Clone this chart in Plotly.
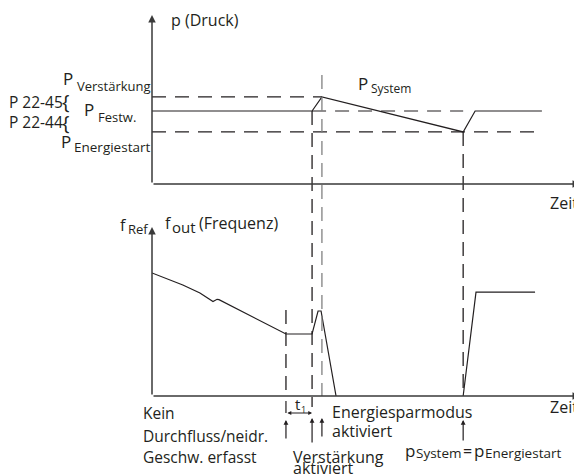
import plotly.graph_objects as go

W, H = 582, 474
OFF = 8  # the page body has an 8px margin, so the figure starts at (8, 8)
FW, FH = W - OFF, H - OFF
INK = "#231f20"
GREY = "#808080"
FONT = "Open Sans"

# time runs 0..100 along both panels
t_system = [0, 37.4, 39.7, 72.7, 75.5, 91.1]
p_system = [4.32, 4.32, 5.15, 3.08, 4.32, 4.32]
p_boost = 5.15
p_setpoint = 4.32
p_wakeup = 3.08
t_boost_dash = [0, 39.7]
t_set_dash = [37.4, 72.7]
t_wake_dash = [0, 91.1]

t_fout_a = [0, 7.2, 11.2, 14.25, 15.2, 15.65, 31.3, 37.4, 38.8, 39.5, 43.0]
f_out_a = [7.28, 6.57, 6.09, 5.59, 5.72, 5.70, 3.67, 3.67, 5.03, 5.03, 0]
t_fout_b = [72.7, 75.7, 89.5]
f_out_b = [0, 6.15, 6.15]

t_noflow = 31.3
t_boost = 37.4
t_sleep = 39.7
t_wake = 72.7


def px(x):
    return (x - OFF) / FW


def py(y):
    return 1 - (y - OFF) / FH


fig = go.Figure()

line = {"color": INK, "width": 1.2}
dash = {"color": INK, "width": 1.2, "dash": "14px,9px"}

fig.add_trace(go.Scatter(x=t_boost_dash, y=[p_boost] * 2, mode="lines", line=dash))
fig.add_trace(go.Scatter(x=t_set_dash, y=[p_setpoint] * 2, mode="lines", line=dash))
fig.add_trace(go.Scatter(x=t_wake_dash, y=[p_wakeup] * 2, mode="lines", line=dash))
fig.add_trace(go.Scatter(x=t_system, y=p_system, mode="lines", line=line))

fig.add_trace(go.Scatter(x=t_fout_a, y=f_out_a, mode="lines", line=line,
                         xaxis="x2", yaxis="y2"))
fig.add_trace(go.Scatter(x=t_fout_b, y=f_out_b, mode="lines", line=line,
                         xaxis="x2", yaxis="y2"))

xdom = [px(152), px(580)]
fig.update_layout(
    width=FW,
    height=FH,
    margin=dict(l=0, r=0, t=0, b=0),
    paper_bgcolor="white",
    plot_bgcolor="rgba(0,0,0,0)",
    showlegend=False,
    font=dict(family=FONT, color=INK),
    xaxis=dict(domain=xdom, range=[0, 100], visible=False),
    yaxis=dict(domain=[py(184), py(15)], range=[0, 10], visible=False),
    xaxis2=dict(domain=xdom, range=[0, 100], visible=False, anchor="y2"),
    yaxis2=dict(domain=[py(396), py(227)], range=[0, 10], visible=False, anchor="x2"),
)

# vertical event markers (dashed), spanning both panels
vlines = [
    (t_boost, 111, 407, INK),
    (t_sleep, 75, 396, GREY),
    (t_wake, 132, 396, INK),
    (t_noflow, 310, 396, INK),
]
for t, y0, y1, col in vlines:
    fig.add_shape(type="line", xref="x", yref="paper", x0=t, x1=t,
                  y0=py(y0), y1=py(y1),
                  line=dict(color=col, width=1.3, dash="14px,8px"))
fig.add_shape(type="line", xref="x", yref="paper", x0=t_noflow, x1=t_noflow,
              y0=py(401), y1=py(413), line=dict(color=INK, width=1.2))

# axes with arrowheads
for xr, yr in (("x", "y"), ("x2", "y2")):
    fig.add_annotation(x=100, y=0, ax=0, ay=0, xref=xr, yref=yr, axref=xr, ayref=yr,
                       text="", showarrow=True, arrowhead=2, arrowsize=1,
                       arrowwidth=1.5, arrowcolor="#3a3a3a")
    fig.add_annotation(x=0, y=10, ax=0, ay=0, xref=xr, yref=yr, axref=xr, ayref=yr,
                       text="", showarrow=True, arrowhead=2, arrowsize=1,
                       arrowwidth=1.5, arrowcolor="#3a3a3a")

# event arrows below the time axis
for t, y_head, length in ((t_noflow, 420, 20), (t_boost, 418, 26),
                          (t_sleep, 418, 20), (t_wake, 420, 22)):
    fig.add_annotation(x=t, y=py(y_head), xref="x", yref="paper", ax=0, ay=length,
                       text="", showarrow=True, arrowhead=2, arrowsize=0.8,
                       arrowwidth=1.2, arrowcolor=INK)

# t1 interval arrow
fig.add_annotation(x=t_boost, y=py(413), xref="x", yref="paper",
                   ax=t_noflow, axref="x", ay=0, ayref="pixel",
                   text="", showarrow=True, arrowhead=2, arrowside="end+start",
                   arrowsize=0.7, arrowwidth=1.1, arrowcolor=INK)

labels = [
    ("p (Druck)", 170, 20, 16),
    ("P", 357, 84, 17), ("System", 370, 89, 12),
    ("Zeit", 549, 203, 16),
    ("Zeit", 549, 407, 16),
    ("P", 62, 79, 17), ("Verstärkung", 76, 86, 13),
    ("P 22-45", 8, 102, 15.5),
    ("P 22-44", 8, 122, 15.5),
    ("P", 83, 110, 17), ("Festw.", 97, 117, 13),
    ("P", 60, 141, 17), ("Energiestart", 73, 147, 13.5),
    ("f", 119, 225, 16), ("Ref", 127, 229, 13),
    ("f", 164, 223, 16), ("out", 171, 227, 15), ("(Frequenz)", 198, 223, 16),
    ("Kein", 142, 413, 15.5),
    ("Durchfluss/neidr.", 142, 436, 15.5),
    ("Geschw. erfasst", 142, 457, 15.5),
    ("t", 294, 404, 15), ("1", 300, 409, 9),
    ("Energiesparmodus", 331, 412, 16),
    ("aktiviert", 331, 431, 16),
    ("Verstärkung", 292, 457, 16),
    ("aktiviert", 292, 468, 16),
    ("p", 404, 450, 17), ("System", 415, 453, 13.5), ("=", 462, 451, 16),
    ("p", 473, 450, 17), ("Energiestart", 484, 453, 13.5),
]
for text, x, y, size in labels:
    fig.add_annotation(text=text, x=px(x), y=py(y), xref="paper", yref="paper",
                       xanchor="left", yanchor="middle", showarrow=False,
                       borderpad=0, font=dict(size=size, family=FONT, color=INK))

# braces for the parameter ranges
for y in (101, 122):
    fig.add_annotation(text="{", x=px(66), y=py(y), xref="paper", yref="paper",
                       xanchor="center", yanchor="middle", showarrow=False,
                       borderpad=0, font=dict(size=20, family=FONT, color=INK))

fig.write_html("out.html")
